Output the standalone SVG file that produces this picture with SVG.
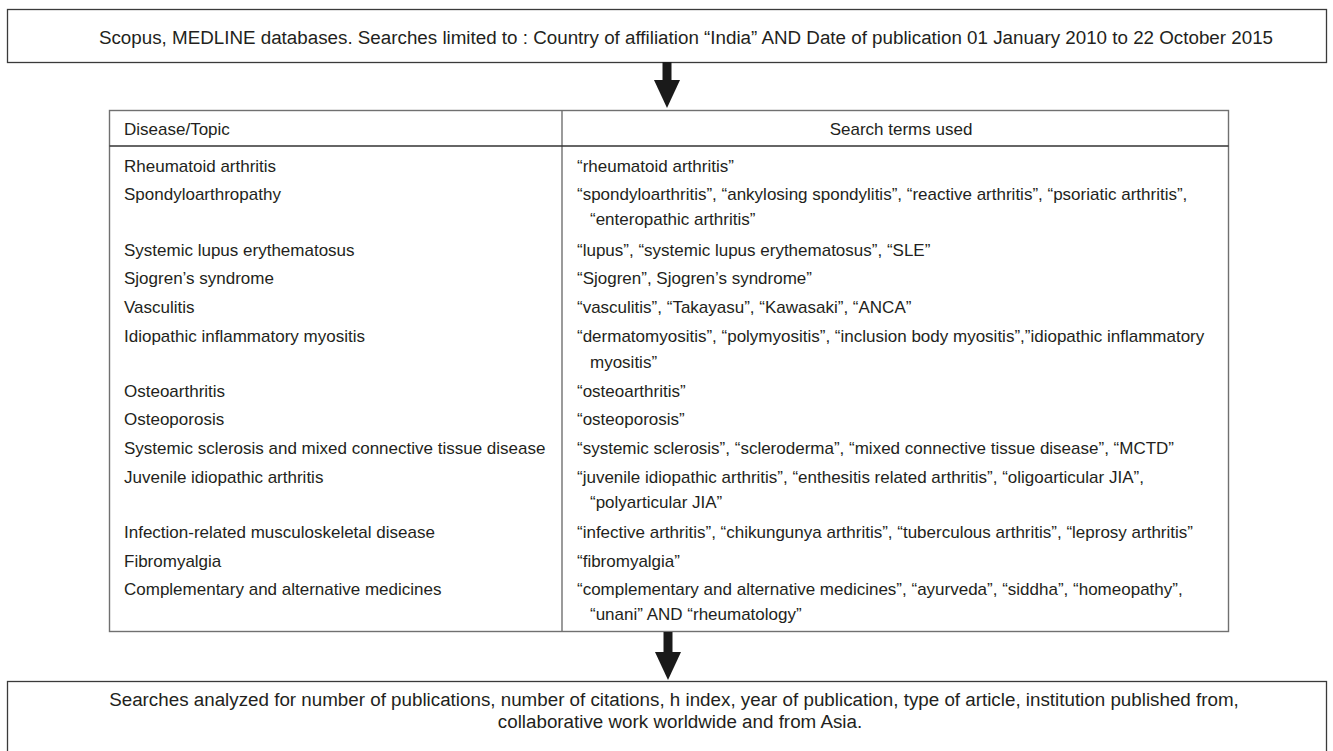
<svg xmlns="http://www.w3.org/2000/svg" width="1333" height="751" viewBox="0 0 1333 751">
<defs>
<marker id="ah" markerUnits="userSpaceOnUse" viewBox="0 0 28 26" refX="0" refY="13" markerWidth="28" markerHeight="26" orient="auto">
<path d="M0,0 L28,13 L0,26 z" fill="#1a1a1a"/>
</marker>
<style>
.box{fill:#fff;stroke:#3a3a3a;stroke-width:1.3}
.tbl{fill:#fff;stroke:#707070;stroke-width:1.4}
.rule{stroke:#333;stroke-width:1.3}
.vrule{stroke:#707070;stroke-width:1.4}
.bt{font-family:"Liberation Sans",Arial,sans-serif;font-size:18.8px;fill:#231f20}
.t{font-family:"Liberation Sans",Arial,sans-serif;font-size:17px;fill:#231f20}
.conn{stroke:#1a1a1a;stroke-width:9;fill:none}
</style>
</defs>
<rect width="1333" height="751" fill="#fff"/>

<g id="node-source">
<rect class="box" x="7.5" y="9.5" width="1319" height="53"/>
<text class="bt" x="686" y="44" text-anchor="middle">Scopus, MEDLINE databases. Searches limited to : Country of affiliation “India” AND Date of publication 01 January 2010 to 22 October 2015</text>
</g>

<g id="node-table">
<rect class="tbl" x="109.5" y="110.5" width="1119" height="521"/>
<line class="vrule" x1="562" y1="110.5" x2="562" y2="631.5"/>
<line class="rule" x1="109.5" y1="146" x2="1228.5" y2="146"/>
<text class="t" x="124" y="135">Disease/Topic</text>
<text class="t" x="901" y="135" text-anchor="middle">Search terms used</text>
<g>
<text class="t" x="124" y="172">Rheumatoid arthritis</text>
<text class="t" x="124" y="200">Spondyloarthropathy</text>
<text class="t" x="124" y="256">Systemic lupus erythematosus</text>
<text class="t" x="124" y="284">Sjogren’s syndrome</text>
<text class="t" x="124" y="313">Vasculitis</text>
<text class="t" x="124" y="342">Idiopathic inflammatory myositis</text>
<text class="t" x="124" y="397">Osteoarthritis</text>
<text class="t" x="124" y="425">Osteoporosis</text>
<text class="t" x="124" y="454">Systemic sclerosis and mixed connective tissue disease</text>
<text class="t" x="124" y="483">Juvenile idiopathic arthritis</text>
<text class="t" x="124" y="538">Infection-related musculoskeletal disease</text>
<text class="t" x="124" y="567">Fibromyalgia</text>
<text class="t" x="124" y="595">Complementary and alternative medicines</text>
</g>
<g>
<text class="t" x="577" y="172">“rheumatoid arthritis”</text>
<text class="t" x="577" y="200">“spondyloarthritis”, “ankylosing spondylitis”, “reactive arthritis”, “psoriatic arthritis”,</text>
<text class="t" x="590" y="225">“enteropathic arthritis”</text>
<text class="t" x="577" y="256">“lupus”, “systemic lupus erythematosus”, “SLE”</text>
<text class="t" x="577" y="284">“Sjogren”, Sjogren’s syndrome”</text>
<text class="t" x="577" y="313">“vasculitis”, “Takayasu”, “Kawasaki”, “ANCA”</text>
<text class="t" x="577" y="342">“dermatomyositis”, “polymyositis”, “inclusion body myositis”,”idiopathic inflammatory</text>
<text class="t" x="590" y="368">myositis”</text>
<text class="t" x="577" y="397">“osteoarthritis”</text>
<text class="t" x="577" y="425">“osteoporosis”</text>
<text class="t" x="577" y="454">“systemic sclerosis”, “scleroderma”, “mixed connective tissue disease”, “MCTD”</text>
<text class="t" x="577" y="483">“juvenile idiopathic arthritis”, “enthesitis related arthritis”, “oligoarticular JIA”,</text>
<text class="t" x="590" y="508">“polyarticular JIA”</text>
<text class="t" x="577" y="538">“infective arthritis”, “chikungunya arthritis”, “tuberculous arthritis”, “leprosy arthritis”</text>
<text class="t" x="577" y="567">“fibromyalgia”</text>
<text class="t" x="577" y="595">“complementary and alternative medicines”, “ayurveda”, “siddha”, “homeopathy”,</text>
<text class="t" x="590" y="620">“unani” AND “rheumatology”</text>
</g>
</g>

<g id="node-result">
<rect class="box" x="7.5" y="681.5" width="1319" height="90"/>
<text class="bt" x="674" y="706" text-anchor="middle">Searches analyzed for number of publications, number of citations, h index, year of publication, type of article, institution published from,</text>
<text class="bt" x="680" y="728" text-anchor="middle">collaborative work worldwide and from Asia.</text>
</g>

<g id="connectors">
<line class="conn" x1="667" y1="62" x2="667" y2="80" marker-end="url(#ah)"/>
<line class="conn" x1="668" y1="632" x2="668" y2="652" marker-end="url(#ah)"/>
</g>
</svg>
